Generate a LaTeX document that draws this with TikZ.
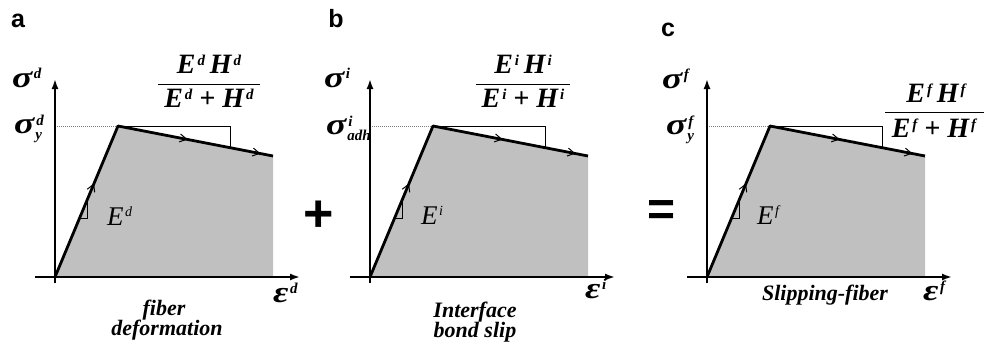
\documentclass[tikz,border=0pt]{standalone}
\usepackage{fontspec}
\setmainfont{Liberation Serif}
\newfontfamily\lblfont{Liberation Sans}
\usetikzlibrary{arrows.meta,decorations.markings}
\definecolor{fillgray}{HTML}{C0C0C0}
\newcommand\BI{\bfseries\itshape}
\newcommand\bigsym[1]{{\fontsize{30}{30}\selectfont\BI\scalebox{1.25}[1]{#1}}}
\newcommand\symsup[2]{\bigsym{#1}\kern1.5pt\raisebox{9pt}{\fontsize{15}{15}\selectfont\BI #2}}
\newcommand\symsubsup[3]{\bigsym{#1}\kern1pt\rlap{\kern1pt\raisebox{8pt}{\fontsize{15}{15}\selectfont\BI #2}}\raisebox{-6pt}{\fontsize{15}{15}\selectfont\BI #3}}
\newcommand\fterm[2]{#1\kern2pt\raisebox{8pt}{\fontsize{15}{15}\selectfont #2}}
\tikzset{
  axisln/.style={line width=1.8pt, -{Latex[length=10pt,width=7pt]}},
  curveln/.style={line width=2.8pt, line join=round},
  triln/.style={line width=1pt},
  dashln/.style={gray, line width=1pt, densely dotted},
  fillarea/.style={fill=fillgray, draw=none},
  barb/.style={decoration={markings, mark=at position #1 with {\arrow{Straight Barb[length=7pt,width=8pt,line width=1pt]}}}, decorate},
  sym/.style={anchor=base west, inner sep=0pt},
  frac/.style={anchor=base, inner sep=0pt, font=\fontsize{28}{28}\selectfont\BI},
  captxt/.style={anchor=base, inner sep=0pt, font=\fontsize{22}{22}\selectfont\BI},
  elbl/.style={anchor=base west, inner sep=0pt, font=\fontsize{27}{27}\selectfont\itshape},
  panel/.style={anchor=base, inner sep=0pt, font=\fontsize{25}{25}\selectfont\lblfont\bfseries},
}
\newcommand\drawpanel{%
  \coordinate (O) at (0,0);
  \coordinate (Y) at (63,-151);
  \coordinate (E) at (218,-121);
  \coordinate (T) at (175,-151);
  \coordinate (Tb) at (175,-129.3);
  \coordinate (s1) at (24.6,-59);
  \coordinate (s2) at (32,-59);
  \coordinate (s3) at (32,-76.7);
  \fill[fillarea] (O) -- (Y) -- (E) -- (218,0) -- cycle;
  \draw[dashln] (0,-151) -- (Y);
  \draw[triln] (Y) -- (T) -- (Tb);
  \draw[triln] (s1) -- (s2) -- (s3);
  \draw[axisln] (0,6) -- (0,-198);
  \draw[axisln] (-20,0) -- (245,0);
  \draw[curveln] (O) -- (Y) -- (E);
  \path[barb=0.62] (O) -- (Y);
  \path[barb=0.45] (Y) -- (E);
  \path[barb=0.92] (Y) -- (E);
}
\begin{document}
\begin{tikzpicture}[x=1pt,y=-1pt]
\useasboundingbox (0,0) rectangle (984,345);
% panels
\begin{scope}[shift={(55,277)}]\drawpanel\end{scope}
\begin{scope}[shift={(370,277)}]\drawpanel\end{scope}
\begin{scope}[shift={(707,277)}]\drawpanel\end{scope}
% panel letters
\node[panel] (la) at (18,28) {a};
\node[panel] (lb) at (336,28) {b};
\node[panel] (lc) at (668,37) {c};
\node[inner sep=0pt, font=\fontsize{52}{52}\selectfont\lblfont\bfseries] (plus) at (319,216) {+};
\node[inner sep=0pt, font=\fontsize{48}{48}\selectfont\lblfont\bfseries] (eq) at (662,213) {=};
% panel a labels
\node[sym] (sa) at (12,87) {\symsup{σ}{d}};
\node[sym] (sya) at (14,133) {\symsubsup{σ}{d}{y}};
\node[frac] (na) at (209,73) {\fterm{E}{d}\,\fterm{H}{d}};
\node[frac] (da) at (209,107) {\fterm{E}{d} + \fterm{H}{d}};
\draw[line width=1pt] (158,84) -- (260,84);
\node[elbl] (ea) at (107,225) {E\kern1.5pt\raisebox{9pt}{\fontsize{14}{14}\selectfont d}};
\node[sym] (xa) at (273,302) {\symsup{ε}{d}};
\node[captxt] (ca1) at (164,315) {fiber};
\node[captxt] (ca2) at (167,335) {deformation};
% panel b labels
\node[sym] (sb) at (324,87) {\symsup{σ}{i}};
\node[sym] (syb) at (326,134) {\symsubsup{σ}{i}{adh}};
\node[frac] (nb) at (523,73) {\fterm{E}{i}\,\fterm{H}{i}};
\node[frac] (db) at (523,107) {\fterm{E}{i} + \fterm{H}{i}};
\draw[line width=1pt] (476,84) -- (570,84);
\node[elbl] (eb) at (421,224) {E\kern1.5pt\raisebox{9pt}{\fontsize{14}{14}\selectfont i}};
\node[sym] (xb) at (585,298) {\symsup{ε}{i}};
\node[captxt] (cb1) at (475,317) {Interface};
\node[captxt] (cb2) at (475,337) {bond slip};
% panel c labels
\node[sym] (sc) at (662,88) {\symsup{σ}{f}};
\node[sym] (syc) at (666,134) {\symsubsup{σ}{f}{y}};
\node[frac] (nc) at (936,102) {\fterm{E}{f}\,\fterm{H}{f}};
\node[frac] (dc) at (934,137) {\fterm{E}{f} + \fterm{H}{f}};
\draw[line width=1pt] (885,112) -- (984,112);
\node[elbl] (ec) at (757,224) {E\kern1.5pt\raisebox{9pt}{\fontsize{14}{14}\selectfont f}};
\node[sym] (xc) at (923,300) {\symsup{ε}{f}};
\node[captxt] (cc1) at (825,300) {Slipping-fiber};
\end{tikzpicture}
\end{document}
